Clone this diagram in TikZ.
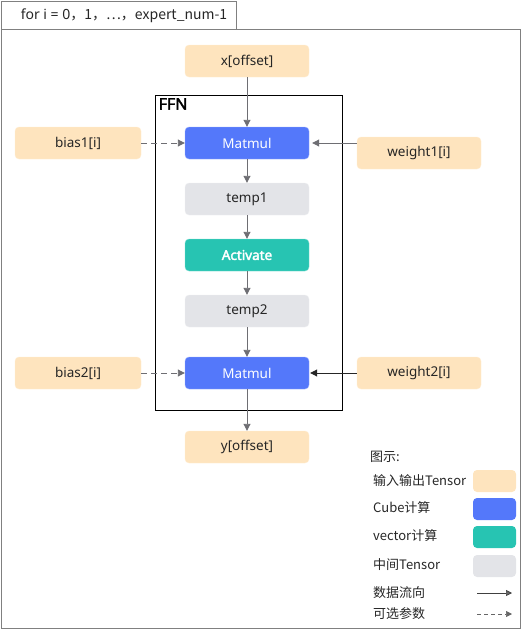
\documentclass[tikz,border=0pt]{standalone}
\usepackage{fontspec}
\setmainfont{Noto Sans}[AutoFakeBold=2.5]
\newfontfamily\cjk{Noto Sans CJK SC}
\usetikzlibrary{arrows.meta}
\definecolor{ioclr}{HTML}{FEE4BE}
\definecolor{cubeclr}{HTML}{5478FA}
\definecolor{vecclr}{HTML}{27C4B2}
\definecolor{midclr}{HTML}{E3E4E8}
\definecolor{flowclr}{HTML}{6E6E73}
\definecolor{frameclr}{HTML}{808080}
\definecolor{txtclr}{HTML}{262626}
\tikzset{
  box/.style={rounded corners=4pt, minimum width=124pt, minimum height=32pt,
    inner sep=0pt, font=\fontsize{13.5}{15}\selectfont, text=txtclr},
  iobox/.style={box, fill=ioclr, draw=ioclr!70!white},
  cubebox/.style={box, fill=cubeclr, draw=cubeclr!60!white, text=white},
  vecbox/.style={box, fill=vecclr, draw=vecclr!60!white, text=white, font=\fontsize{13.5}{15}\selectfont\bfseries},
  midbox/.style={box, fill=midclr, draw=midclr!60!white},
  flow/.style={draw=flowclr, line width=0.9pt, -{Triangle[length=7pt,width=7pt]}},
  flowdark/.style={draw=black!85, line width=0.9pt, -{Triangle[length=7pt,width=7pt]}},
  optflow/.style={flow, dash pattern=on 6pt off 4pt},
  legtext/.style={anchor=west, inner sep=0pt, font=\cjk\fontsize{13}{15}\selectfont, text=txtclr},
  legbox/.style={rounded corners=4pt, minimum width=43pt, minimum height=22pt, inner sep=0pt},
}
\begin{document}
\begin{tikzpicture}[x=1pt, y=-1pt]
\useasboundingbox (0,0) rectangle (522,632);
% outer loop frame and its tab
\draw[frameclr, line width=0.9pt] (1.5,29) rectangle (520.5,628);
\draw[frameclr, line width=0.9pt, fill=white] (1.5,1.5) rectangle (236,29);
\node[font=\fontsize{14}{16}\selectfont, text=txtclr] (tab) at (124,15.5) {for i = 0\cjk{，}1\cjk{，}…\cjk{，}expert\_num-1};

% FFN block
\draw[black, line width=1pt] (155.5,95.5) rectangle (342.5,410.5);
\node[anchor=north west, inner sep=0pt, font=\fontsize{16}{18}\selectfont\bfseries] (ffn) at (158.5,98) {FFN};

% nodes
\node[iobox] (x) at (247,61) {x[offset]};
\node[cubebox] (mm1) at (247,143) {Matmul};
\node[iobox, minimum width=126pt] (b1) at (78,143) {bias1[i]};
\node[iobox] (w1) at (419,153) {weight1[i]};
\node[midbox] (t1) at (247,199) {temp1};
\node[vecbox] (act) at (247,255) {Activate};
\node[midbox] (t2) at (247,311) {temp2};
\node[cubebox] (mm2) at (247,373) {Matmul};
\node[iobox, minimum width=126pt] (b2) at (78,373) {bias2[i]};
\node[iobox] (w2) at (419,373) {weight2[i]};
\node[iobox] (y) at (247,447) {y[offset]};

% data flow
\draw[flow] (x) -- (mm1);
\draw[flow] (mm1) -- (t1);
\draw[flow] (t1) -- (act);
\draw[flow] (act) -- (t2);
\draw[flow] (t2) -- (mm2);
\draw[flow] (mm2) -- (y);
\draw[optflow] (b1) -- (mm1);
\draw[optflow] (b2) -- (mm2);
\draw[flow] (w1.west |- mm1) -- ([xshift=3pt]mm1.east);
\draw[flowdark] (w2) -- ([xshift=1pt]mm2.east);

% legend
\node[legtext] (legtitle) at (370,457) {图示:};
\node[legtext] (l1) at (373,481) {输入输出Tensor};
\node[legtext] (l2) at (373,508) {Cube计算};
\node[legtext] (l3) at (373,536) {vector计算};
\node[legtext] (l4) at (373,565) {中间Tensor};
\node[legtext] (l5) at (373,593) {数据流向};
\node[legtext] (l6) at (373,614) {可选参数};
\node[legbox, fill=ioclr] (k1) at (494.5,481) {};
\node[legbox, fill=cubeclr] (k2) at (494.5,509) {};
\node[legbox, fill=vecclr] (k3) at (494.5,537) {};
\node[legbox, fill=midclr] (k4) at (494.5,566) {};
\coordinate (a1s) at (477,593);
\coordinate (a1e) at (512,593);
\coordinate (a2s) at (477,614);
\coordinate (a2e) at (512,614);
\draw[draw=black!75, line width=0.7pt, -{Triangle[length=6pt,width=6pt,fill=black!60]}] (a1s) -- (a1e);
\draw[draw=black!60, line width=0.7pt, dash pattern=on 4pt off 3pt, -{Triangle[length=6pt,width=6pt]}] (a2s) -- (a2e);
\end{tikzpicture}
\end{document}
